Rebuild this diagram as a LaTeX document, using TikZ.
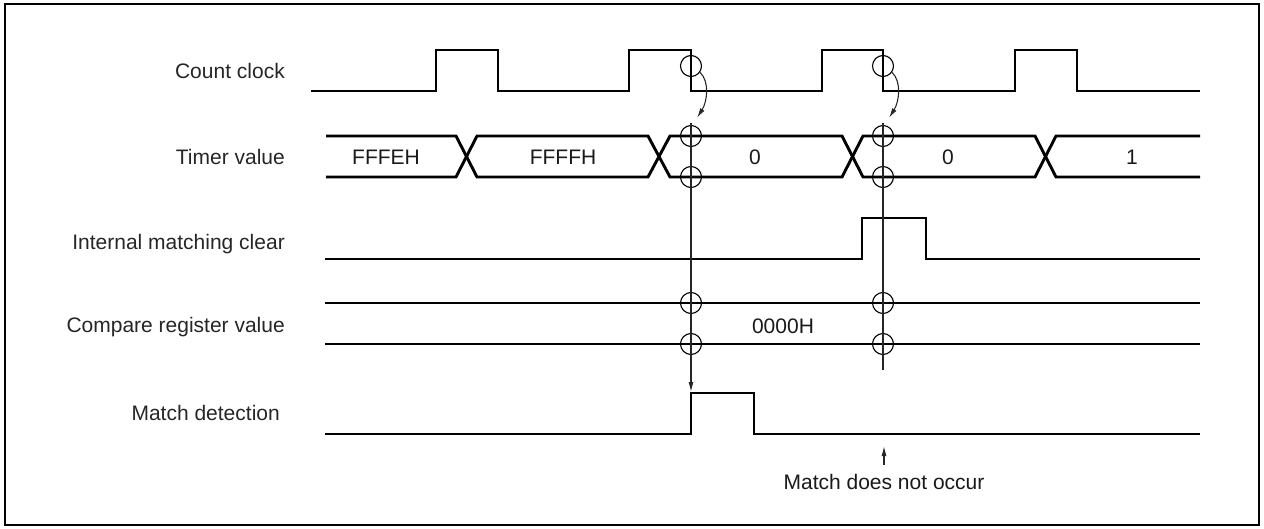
\documentclass[tikz,border=0pt]{standalone}
\usepackage{fontspec}
\setmainfont{Liberation Sans}
\usetikzlibrary{arrows.meta}
\begin{document}
\begin{tikzpicture}[x=1pt,y=-1pt,
  sig/.style={line width=2.9pt,line join=miter,line cap=butt},
  thin/.style={line width=1.1pt,black!85},
  ring/.style={circle,draw,line width=1.1pt,minimum size=21pt,inner sep=0pt},
  lbl/.style={anchor=east,inner sep=0pt,text height=15pt,text depth=0pt,text=black!85,font=\fontsize{21}{25}\selectfont},
  val/.style={inner sep=0pt,text height=15pt,text depth=0pt,text=black!90,font=\fontsize{21}{25}\selectfont},
  tip/.style={-{Latex[length=10pt,width=5pt]}}]
\useasboundingbox (0,0) rectangle (1264,529);
\draw[line width=2.6pt] (5,4) rectangle (1259,525);

% labels
\node[lbl] (lclk) at (285,71) {Count clock};
\node[lbl] (ltim) at (285,157) {Timer value};
\node[lbl] (lint) at (285,242) {Internal matching clear};
\node[lbl] (lcmp) at (285,325) {Compare register value};
\node[lbl] (lmat) at (280,413) {Match detection};

% count clock
\draw[sig] (311,91)--(436,91)--(436,50)--(498,50)--(498,91)--(629,91)--(629,50)--(691,50)--(691,91)
  --(822,91)--(822,50)--(883,50)--(883,91)--(1015,91)--(1015,50)--(1077,50)--(1077,91)--(1200,91);

% timer value
\draw[sig] (326,136)--(456,136)--(477,177)--(648,177)--(670,136)--(842,136)--(863,177)--(1035,177)--(1056,136)--(1200,136);
\draw[sig] (326,177)--(456,177)--(477,136)--(648,136)--(670,177)--(842,177)--(863,136)--(1035,136)--(1056,177)--(1200,177);
\node[val] (t1) at (386,157) {FFFEH};
\node[val] (t2) at (563,157) {FFFFH};
\node[val] (t3) at (755,157) {0};
\node[val] (t4) at (948,157) {0};
\node[val] (t5) at (1132,157) {1};

% internal matching clear
\draw[sig] (325,259)--(862,259)--(862,218)--(926,218)--(926,259)--(1200,259);

% compare register value
\draw[sig] (325,303)--(1200,303);
\draw[sig] (325,344)--(1200,344);
\node[val] (cv) at (783,326) {0000H};

% match detection
\draw[sig] (325,434)--(691,434)--(691,393)--(754,393)--(754,434)--(1200,434);

% circles
\node[ring] (ca) at (691,66) {};
\node[ring] (cb) at (883,66) {};
\node[ring] (ta1) at (691,136) {};
\node[ring] (ta2) at (691,177) {};
\node[ring] (tb1) at (883,136) {};
\node[ring] (tb2) at (883,177) {};
\node[ring] (ra1) at (691,303) {};
\node[ring] (ra2) at (691,344) {};
\node[ring] (rb1) at (883,303) {};
\node[ring] (rb2) at (883,344) {};

% vertical reference lines
\coordinate (va0) at (691,123);
\coordinate (va1) at (691,392);
\coordinate (vb0) at (883,123);
\coordinate (vb1) at (883,370);
\draw[thin,tip] (va0) -- (va1);
\draw[thin] (vb0) -- (vb1);

% curved arrows
\coordinate (ea) at (697,118);
\coordinate (eb) at (889,118);
\draw[thin,tip] (ca.-35) .. controls (710,82) and (707,102) .. (ea);
\draw[thin,tip] (cb.-35) .. controls (902,82) and (899,102) .. (eb);

% match does not occur
\node[val] (nm) at (884,482) {Match does not occur};
\coordinate (nma) at (884,465);
\coordinate (nmb) at (884,446);
\draw[thin,tip] (nma) -- (nmb);
\end{tikzpicture}
\end{document}
